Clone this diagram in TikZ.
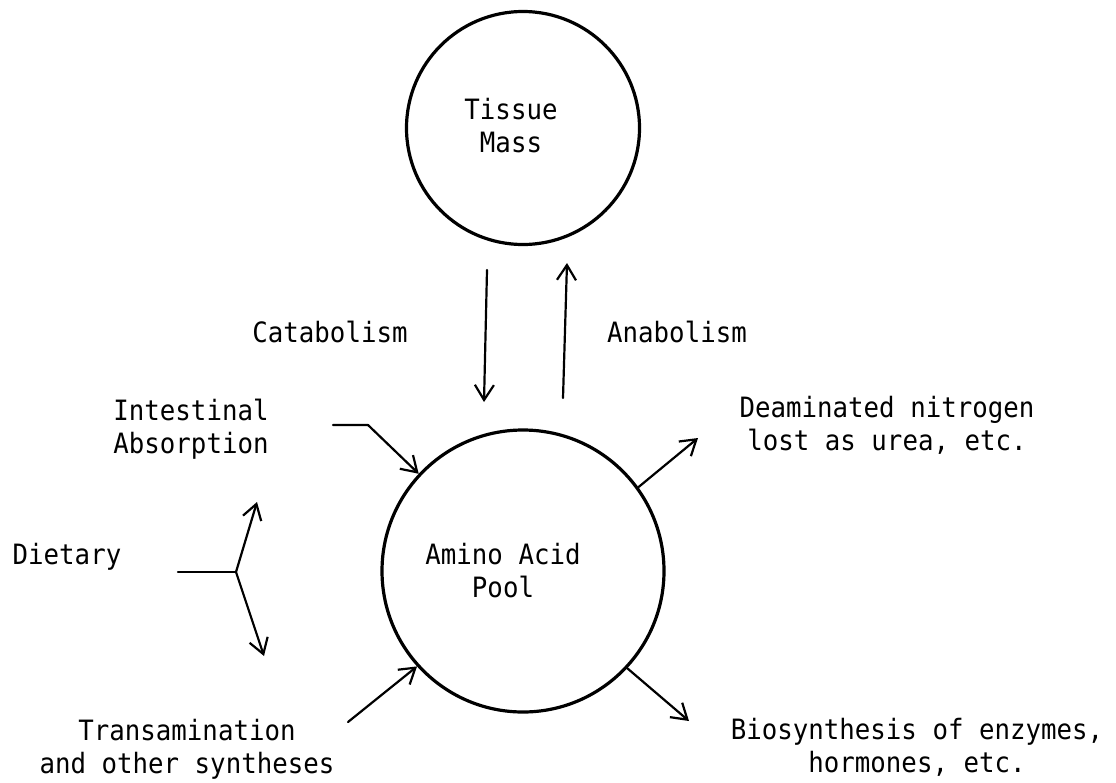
\documentclass[tikz,border=0pt]{standalone}
\usepackage{fontspec}
\usetikzlibrary{arrows.meta}
\newfontfamily\twfont[FakeStretch=0.92]{DejaVu Sans Mono}
\begin{document}
\begin{tikzpicture}[x=1pt,y=-1pt,
  bubble/.style={circle,draw,line width=3.2pt,inner sep=0pt},
  lbl/.style={font=\twfont\fontsize{28}{33}\selectfont,align=center,anchor=base,inner sep=0pt},
  arr/.style={line width=2.2pt,line cap=round,line join=round,-{Straight Barb[length=15pt,width=19pt,line width=2.2pt]}},
  plain/.style={line width=2.2pt,line cap=round,line join=round}]
\useasboundingbox[fill=white] (0,0) rectangle (1116,782);
% circles
\node[bubble,minimum size=233pt] (tissue) at (523,128) {};
\node[bubble,minimum size=282pt] (pool) at (523,571) {};
% texts (anchor = baseline of the last line)
\node[lbl] (tissuetxt) at (511,152) {Tissue\\Mass};
\node[lbl] (pooltxt) at (503,597) {Amino Acid\\Pool};
\node[lbl] (catab) at (330,342) {Catabolism};
\node[lbl] (anab) at (677,342) {Anabolism};
\node[lbl] (intest) at (191,453) {Intestinal\\Absorption};
\node[lbl] (diet) at (67,564) {Dietary};
\node[lbl] (trans) at (187,773) {Transamination\\and other syntheses};
\node[lbl] (deam) at (887,450) {Deaminated nitrogen\\lost as urea, etc.};
\node[lbl] (bios) at (917,772) {Biosynthesis of enzymes,\\hormones, etc.};
% free ends
\coordinate (catS) at (487,270);
\coordinate (catE) at (484,402);
\coordinate (anaS) at (563,398);
\coordinate (anaE) at (567,263);
\coordinate (intS) at (333,425);
\coordinate (intB) at (368,425);
\coordinate (dietS) at (178,572);
\coordinate (split) at (236,572);
\coordinate (dietU) at (257,502);
\coordinate (dietD) at (264,656);
\coordinate (transS) at (348,722);
\coordinate (deamE) at (698,438);
\coordinate (biosE) at (689,721);
% connectors
\draw[arr] (catS) -- (catE);
\draw[arr] (anaS) -- (anaE);
\draw[arr] (intS) -- (intB) -- (pool.137);
\draw[plain] (dietS) -- (split);
\draw[arr] (split) -- (dietU);
\draw[arr] (split) -- (dietD);
\draw[arr] (transS) -- (pool.222);
\draw[arr] (pool.36) -- (deamE);
\draw[arr] (pool.-43) -- (biosE);
\end{tikzpicture}
\end{document}
